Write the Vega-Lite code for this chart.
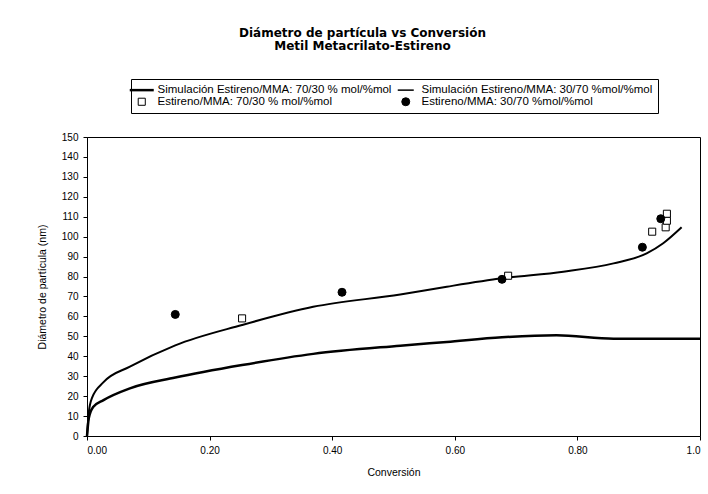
{
  "$schema": "https://vega.github.io/schema/vega-lite/v6.json",
  "width": 613,
  "height": 299,
  "autosize": {"type": "none"},
  "padding": {"left": 87, "top": 137, "right": 8, "bottom": 58},
  "background": "white",
  "title": {
    "text": ["Diámetro de partícula vs Conversión", "Metil Metacrilato-Estireno"],
    "font": "DejaVu Sans",
    "fontSize": 12,
    "fontWeight": "bold",
    "color": "black",
    "anchor": "middle",
    "dx": -31,
    "lineHeight": 13,
    "offset": 26
  },
  "config": {
    "view": {"stroke": "black", "strokeWidth": 1},
    "font": "Liberation Sans",
    "axis": {
      "grid": false,
      "domainColor": "black",
      "tickColor": "black",
      "labelColor": "black",
      "titleColor": "black",
      "labelFont": "Liberation Sans",
      "titleFont": "Liberation Sans",
      "labelFontSize": 10,
      "titleFontSize": 10.5,
      "titleFontWeight": "normal",
      "tickSize": 4
    }
  },
  "data": {
    "values": [
      {"serie": "Simulación Estireno/MMA: 70/30 % mol/%mol", "conv": 0.0, "diam": 0},
      {"serie": "Simulación Estireno/MMA: 70/30 % mol/%mol", "conv": 0.003, "diam": 9},
      {"serie": "Simulación Estireno/MMA: 70/30 % mol/%mol", "conv": 0.01, "diam": 14.5},
      {"serie": "Simulación Estireno/MMA: 70/30 % mol/%mol", "conv": 0.027, "diam": 18},
      {"serie": "Simulación Estireno/MMA: 70/30 % mol/%mol", "conv": 0.07, "diam": 23.9},
      {"serie": "Simulación Estireno/MMA: 70/30 % mol/%mol", "conv": 0.144, "diam": 29.3},
      {"serie": "Simulación Estireno/MMA: 70/30 % mol/%mol", "conv": 0.253, "diam": 35.6},
      {"serie": "Simulación Estireno/MMA: 70/30 % mol/%mol", "conv": 0.369, "diam": 41.2},
      {"serie": "Simulación Estireno/MMA: 70/30 % mol/%mol", "conv": 0.511, "diam": 45.3},
      {"serie": "Simulación Estireno/MMA: 70/30 % mol/%mol", "conv": 0.587, "diam": 47.2},
      {"serie": "Simulación Estireno/MMA: 70/30 % mol/%mol", "conv": 0.677, "diam": 49.5},
      {"serie": "Simulación Estireno/MMA: 70/30 % mol/%mol", "conv": 0.766, "diam": 50.5},
      {"serie": "Simulación Estireno/MMA: 70/30 % mol/%mol", "conv": 0.859, "diam": 48.8},
      {"serie": "Simulación Estireno/MMA: 70/30 % mol/%mol", "conv": 1.0, "diam": 48.8},
      {"serie": "Simulación Estireno/MMA: 30/70 %mol/%mol", "conv": 0.0, "diam": 0},
      {"serie": "Simulación Estireno/MMA: 30/70 %mol/%mol", "conv": 0.003, "diam": 12},
      {"serie": "Simulación Estireno/MMA: 30/70 %mol/%mol", "conv": 0.008, "diam": 19},
      {"serie": "Simulación Estireno/MMA: 30/70 %mol/%mol", "conv": 0.027, "diam": 27},
      {"serie": "Simulación Estireno/MMA: 30/70 %mol/%mol", "conv": 0.07, "diam": 34.8},
      {"serie": "Simulación Estireno/MMA: 30/70 %mol/%mol", "conv": 0.144, "diam": 45.5},
      {"serie": "Simulación Estireno/MMA: 30/70 %mol/%mol", "conv": 0.253, "diam": 55.7},
      {"serie": "Simulación Estireno/MMA: 30/70 %mol/%mol", "conv": 0.369, "diam": 64.8},
      {"serie": "Simulación Estireno/MMA: 30/70 %mol/%mol", "conv": 0.511, "diam": 71},
      {"serie": "Simulación Estireno/MMA: 30/70 %mol/%mol", "conv": 0.587, "diam": 74.9},
      {"serie": "Simulación Estireno/MMA: 30/70 %mol/%mol", "conv": 0.677, "diam": 79.1},
      {"serie": "Simulación Estireno/MMA: 30/70 %mol/%mol", "conv": 0.777, "diam": 82.4},
      {"serie": "Simulación Estireno/MMA: 30/70 %mol/%mol", "conv": 0.859, "diam": 86.6},
      {"serie": "Simulación Estireno/MMA: 30/70 %mol/%mol", "conv": 0.913, "diam": 91.6},
      {"serie": "Simulación Estireno/MMA: 30/70 %mol/%mol", "conv": 0.94, "diam": 96.7},
      {"serie": "Simulación Estireno/MMA: 30/70 %mol/%mol", "conv": 0.97, "diam": 104.7},
      {"serie": "Estireno/MMA: 70/30 % mol/%mol", "conv": 0.253, "diam": 59},
      {"serie": "Estireno/MMA: 70/30 % mol/%mol", "conv": 0.687, "diam": 80.4},
      {"serie": "Estireno/MMA: 70/30 % mol/%mol", "conv": 0.922, "diam": 102.5},
      {"serie": "Estireno/MMA: 70/30 % mol/%mol", "conv": 0.944, "diam": 104.7},
      {"serie": "Estireno/MMA: 70/30 % mol/%mol", "conv": 0.946, "diam": 108},
      {"serie": "Estireno/MMA: 70/30 % mol/%mol", "conv": 0.946, "diam": 111.5},
      {"serie": "Estireno/MMA: 30/70 %mol/%mol", "conv": 0.144, "diam": 61},
      {"serie": "Estireno/MMA: 30/70 %mol/%mol", "conv": 0.416, "diam": 72.1},
      {"serie": "Estireno/MMA: 30/70 %mol/%mol", "conv": 0.677, "diam": 78.6},
      {"serie": "Estireno/MMA: 30/70 %mol/%mol", "conv": 0.906, "diam": 94.7},
      {"serie": "Estireno/MMA: 30/70 %mol/%mol", "conv": 0.936, "diam": 109}
    ]
  },
  "encoding": {
    "x": {
      "field": "conv",
      "type": "quantitative",
      "scale": {"domain": [0, 1], "nice": false},
      "axis": {
        "title": "Conversión",
        "values": [0, 0.2, 0.4, 0.6, 0.8, 1],
        "labelExpr": "datum.value == 1 ? '1.0' : format(datum.value, '.2f')",
        "labelPadding": 5,
        "titlePadding": 12
      }
    },
    "y": {
      "field": "diam",
      "type": "quantitative",
      "scale": {"domain": [0, 150], "nice": false},
      "axis": {
        "title": "Diámetro de partícula (nm)",
        "values": [0, 10, 20, 30, 40, 50, 60, 70, 80, 90, 100, 110, 120, 130, 140, 150],
        "labelPadding": 5,
        "titlePadding": 14
      }
    }
  },
  "layer": [
    {
      "transform": [{"filter": "datum.serie == 'Simulación Estireno/MMA: 70/30 % mol/%mol'"}],
      "mark": {"type": "line", "color": "black", "strokeWidth": 2.5, "interpolate": "monotone"}
    },
    {
      "transform": [{"filter": "datum.serie == 'Simulación Estireno/MMA: 30/70 %mol/%mol'"}],
      "mark": {"type": "line", "color": "black", "strokeWidth": 2, "interpolate": "monotone"}
    },
    {
      "transform": [{"filter": "indexof(datum.serie, 'Simulación') < 0"}],
      "mark": {"type": "point", "filled": true, "stroke": "black", "opacity": 1},
      "encoding": {
        "shape": {
          "field": "serie",
          "type": "nominal",
          "scale": {
            "domain": ["Simulación Estireno/MMA: 70/30 % mol/%mol", "Simulación Estireno/MMA: 30/70 %mol/%mol", "Estireno/MMA: 70/30 % mol/%mol", "Estireno/MMA: 30/70 %mol/%mol"],
            "range": ["M-3,0H3", "M-2,0H2", "square", "circle"]
          },
          "legend": {
            "title": null,
            "orient": "none",
            "direction": "horizontal",
            "legendX": 44,
            "legendY": -58,
            "columns": 2,
            "columnPadding": 2,
            "rowPadding": -2,
            "padding": 5,
            "strokeColor": "black",
            "labelFont": "Liberation Sans",
            "labelFontSize": 11.5,
            "labelColor": "black",
            "labelLimit": 400,
            "labelOffset": 10,
            "symbolStrokeColor": "black"
          }
        },
        "fill": {
          "field": "serie",
          "type": "nominal",
          "scale": {
            "domain": ["Simulación Estireno/MMA: 70/30 % mol/%mol", "Simulación Estireno/MMA: 30/70 %mol/%mol", "Estireno/MMA: 70/30 % mol/%mol", "Estireno/MMA: 30/70 %mol/%mol"],
            "range": ["black", "black", "white", "black"]
          },
          "legend": {"title": null}
        },
        "size": {
          "field": "serie",
          "type": "nominal",
          "scale": {
            "type": "ordinal",
            "domain": ["Simulación Estireno/MMA: 70/30 % mol/%mol", "Simulación Estireno/MMA: 30/70 %mol/%mol", "Estireno/MMA: 70/30 % mol/%mol", "Estireno/MMA: 30/70 %mol/%mol"],
            "range": [64, 64, 50, 64]
          },
          "legend": {"title": null}
        },
        "strokeWidth": {
          "field": "serie",
          "type": "nominal",
          "scale": {
            "type": "ordinal",
            "domain": ["Simulación Estireno/MMA: 70/30 % mol/%mol", "Simulación Estireno/MMA: 30/70 %mol/%mol", "Estireno/MMA: 70/30 % mol/%mol", "Estireno/MMA: 30/70 %mol/%mol"],
            "range": [2.5, 1.5, 1, 1]
          },
          "legend": {"title": null}
        }
      }
    }
  ]
}
